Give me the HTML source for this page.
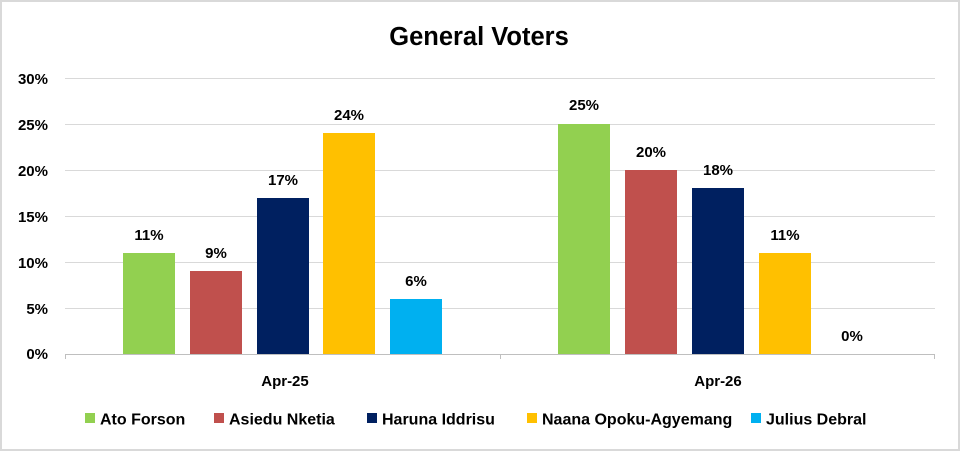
<!DOCTYPE html>
<html><head><meta charset="utf-8"><style>
html,body{margin:0;padding:0;background:#fff}
svg{display:block}
text{font-family:"Liberation Sans",Arial,sans-serif;font-weight:bold;fill:#000}
</style></head><body>
<svg width="960" height="451" viewBox="0 0 960 451">
<rect x="1" y="1" width="958" height="449" fill="#fff" stroke="#d9d9d9" stroke-width="2"/>
<text x="479" y="45" font-size="25.5" text-anchor="middle">General Voters</text>
<g stroke="#d9d9d9" stroke-width="1">
<line x1="65" x2="935" y1="78.5" y2="78.5"/>
<line x1="65" x2="935" y1="124.5" y2="124.5"/>
<line x1="65" x2="935" y1="170.5" y2="170.5"/>
<line x1="65" x2="935" y1="216.5" y2="216.5"/>
<line x1="65" x2="935" y1="262.5" y2="262.5"/>
<line x1="65" x2="935" y1="308.5" y2="308.5"/>
</g>
<g font-size="15" text-anchor="end">
<text x="48" y="84">30%</text><text x="48" y="130">25%</text><text x="48" y="176">20%</text>
<text x="48" y="222">15%</text><text x="48" y="268">10%</text><text x="48" y="314">5%</text><text x="48" y="359">0%</text>
</g>
<rect x="123" y="253" width="52" height="101" fill="#92d050"/>
<rect x="190" y="271" width="52" height="83" fill="#c0504d"/>
<rect x="257" y="198" width="52" height="156" fill="#002060"/>
<rect x="323" y="133" width="52" height="221" fill="#ffc000"/>
<rect x="390" y="299" width="52" height="55" fill="#00b0f0"/>
<rect x="558" y="124" width="52" height="230" fill="#92d050"/>
<rect x="625" y="170" width="52" height="184" fill="#c0504d"/>
<rect x="692" y="188" width="52" height="166" fill="#002060"/>
<rect x="759" y="253" width="52" height="101" fill="#ffc000"/>
<line x1="65" x2="935" y1="354.5" y2="354.5" stroke="#bfbfbf"/>
<line x1="65.5" x2="65.5" y1="354" y2="359" stroke="#bfbfbf"/>
<line x1="500.5" x2="500.5" y1="354" y2="359" stroke="#bfbfbf"/>
<line x1="934.5" x2="934.5" y1="354" y2="359" stroke="#bfbfbf"/>
<g font-size="15" text-anchor="middle">
<text x="149" y="240">11%</text><text x="216" y="258">9%</text><text x="283" y="185">17%</text>
<text x="349" y="120">24%</text><text x="416" y="286">6%</text>
<text x="584" y="110">25%</text><text x="651" y="157">20%</text><text x="718" y="175">18%</text>
<text x="785" y="240">11%</text><text x="852" y="341">0%</text>
<text x="285" y="386">Apr-25</text><text x="718" y="386">Apr-26</text>
</g>
<g font-size="16">
<rect x="85" y="413" width="10" height="10" fill="#92d050"/><text x="100" y="424.5">Ato Forson</text>
<rect x="214" y="413" width="10" height="10" fill="#c0504d"/><text x="229" y="424.5">Asiedu Nketia</text>
<rect x="367" y="413" width="10" height="10" fill="#002060"/><text x="382" y="424.5">Haruna Iddrisu</text>
<rect x="527" y="413" width="10" height="10" fill="#ffc000"/><text x="542" y="424.5">Naana Opoku-Agyemang</text>
<rect x="751" y="413" width="10" height="10" fill="#00b0f0"/><text x="766" y="424.5">Julius Debral</text>
</g>
</svg>
</body></html>
